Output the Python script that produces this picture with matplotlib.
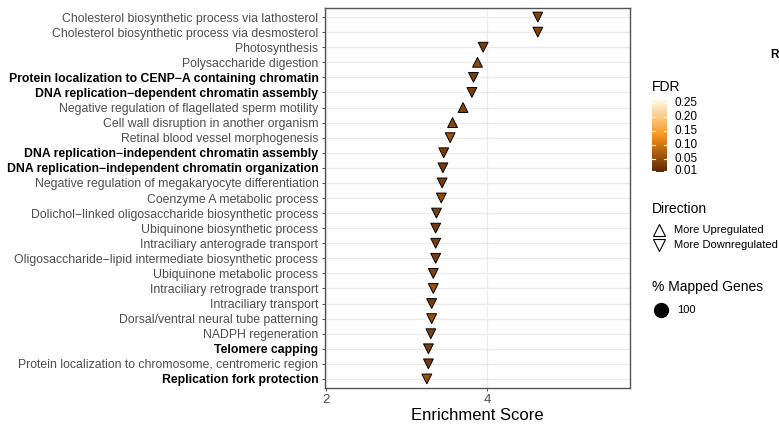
import matplotlib
matplotlib.use("Agg")
import matplotlib.pyplot as plt
import numpy as np
from matplotlib.colors import LinearSegmentedColormap, Normalize

plt.rcParams['font.family'] = ['Liberation Sans', 'DejaVu Sans']

terms = [
    "Cholesterol biosynthetic process via lathosterol",
    "Cholesterol biosynthetic process via desmosterol",
    "Photosynthesis",
    "Polysaccharide digestion",
    "Protein localization to CENP\u2212A containing chromatin",
    "DNA replication\u2212dependent chromatin assembly",
    "Negative regulation of flagellated sperm motility",
    "Cell wall disruption in another organism",
    "Retinal blood vessel morphogenesis",
    "DNA replication\u2212independent chromatin assembly",
    "DNA replication\u2212independent chromatin organization",
    "Negative regulation of megakaryocyte differentiation",
    "Coenzyme A metabolic process",
    "Dolichol\u2212linked oligosaccharide biosynthetic process",
    "Ubiquinone biosynthetic process",
    "Intraciliary anterograde transport",
    "Oligosaccharide\u2212lipid intermediate biosynthetic process",
    "Ubiquinone metabolic process",
    "Intraciliary retrograde transport",
    "Intraciliary transport",
    "Dorsal/ventral neural tube patterning",
    "NADPH regeneration",
    "Telomere capping",
    "Protein localization to chromosome, centromeric region",
    "Replication fork protection",
]
highlight = [False, False, False, False, True, True, False, False, False, True, True,
             False, False, False, False, False, False, False, False, False, False,
             False, True, False, True]
enrichment = [4.63, 4.63, 3.95, 3.88, 3.83, 3.81, 3.70, 3.57, 3.54, 3.46, 3.45, 3.44,
              3.43, 3.37, 3.36, 3.36, 3.36, 3.33, 3.33, 3.31, 3.31, 3.30, 3.27, 3.27, 3.25]
direction = ["down", "down", "down", "up", "down", "down", "up", "up", "down", "down",
             "down", "down", "down", "down", "down", "down", "down", "down", "down",
             "down", "down", "down", "down", "down", "down"]
fdr = [0.04, 0.04, 0.03, 0.045, 0.03, 0.03, 0.04, 0.045, 0.055, 0.03, 0.03, 0.03,
       0.05, 0.035, 0.03, 0.03, 0.03, 0.035, 0.055, 0.03, 0.055, 0.035, 0.03, 0.03, 0.055]
mapped_pct = [100] * 25
fdr_breaks = [0.01, 0.05, 0.10, 0.15, 0.20, 0.25]
x_breaks = [2, 4]

W, H = 779, 425
fig = plt.figure(figsize=(W / 100, H / 100), dpi=100)

def fx(px):
    return px / W

def fy(py):
    return 1 - py / H

cmap = LinearSegmentedColormap.from_list(
    "fdr", [(0.0, "#5c2606"), (0.5, "#f7941d"), (1.0, "#fffbea")])
norm = Normalize(vmin=0.005, vmax=0.262)

ax = fig.add_axes([fx(324.7), fy(388), fx(629.5 - 324.7), (388 - 8) / H])
n = len(terms)
ys = np.arange(1, n + 1)
ax.set_ylim(n + 0.6, 0.4)
ax.set_xlim(1.98, 5.77)
ax.set_axisbelow(True)
for y in ys:
    ax.axhline(y, color="#ebebeb", lw=1.0, zorder=0)
for xb in x_breaks:
    ax.axvline(xb, color="#ebebeb", lw=1.0, zorder=0)

for d, mk in [("up", "^"), ("down", "v")]:
    idx = [i for i in range(n) if direction[i] == d]
    ax.scatter([enrichment[i] for i in idx], [ys[i] for i in idx],
               c=[fdr[i] for i in idx], cmap=cmap, norm=norm, marker=mk,
               s=50, edgecolors="black", linewidths=0.7, zorder=3)

ax.set_yticks(ys)
ax.set_yticklabels(terms)
for lbl, hl in zip(ax.get_yticklabels(), highlight):
    lbl.set_fontsize(8.8)
    if hl:
        lbl.set_fontweight("bold")
        lbl.set_color("black")
    else:
        lbl.set_color("#4d4d4d")
ax.set_xticks(x_breaks)
ax.set_xticklabels([str(v) for v in x_breaks], fontsize=9.5, color="#4d4d4d")
ax.tick_params(axis="both", length=2.5, width=0.6, color="#333333", pad=2)
ax.set_xlabel("Enrichment Score", fontsize=12, labelpad=1)
for sp in ax.spines.values():
    sp.set_color("#555555")
    sp.set_linewidth(1.0)

# FDR legend (colorbar)
fig.text(fx(652), fy(87), "FDR", fontsize=10, va="center", ha="left")
cb_bot, cb_top = 172, 100
cax = fig.add_axes([fx(652), fy(cb_bot), fx(15), (cb_bot - cb_top) / H])
grad = np.linspace(norm.vmin, norm.vmax, 256).reshape(-1, 1)
cax.imshow(grad, aspect="auto", cmap=cmap, norm=norm, origin="lower",
           extent=[0, 1, norm.vmin, norm.vmax])
cax.set_xlim(0, 1)
cax.set_ylim(norm.vmin, norm.vmax)
cax.set_xticks([])
cax.set_yticks([])
for sp in cax.spines.values():
    sp.set_visible(False)
for b in fdr_breaks:
    cax.plot([0, 0.2], [b, b], color="white", lw=0.8)
    cax.plot([0.8, 1], [b, b], color="white", lw=0.8)
    cax.text(1.5, b, f"{b:.2f}", fontsize=8.5, va="center", ha="left",
             transform=cax.get_yaxis_transform(), clip_on=False)

# Direction legend
fig.text(fx(652), fy(209), "Direction", fontsize=10, va="center", ha="left")
fig.lines.append(plt.Line2D([fx(659)], [fy(230)], marker="^", markersize=8,
                            markerfacecolor="none", markeredgecolor="black",
                            markeredgewidth=0.8, transform=fig.transFigure))
fig.lines.append(plt.Line2D([fx(659)], [fy(245)], marker="v", markersize=8,
                            markerfacecolor="none", markeredgecolor="black",
                            markeredgewidth=0.8, transform=fig.transFigure))
fig.text(fx(674), fy(230), "More Upregulated", fontsize=8, va="center", ha="left")
fig.text(fx(674), fy(245), "More Downregulated", fontsize=8, va="center", ha="left")

# Size legend
fig.text(fx(652), fy(287), "% Mapped Genes", fontsize=10, va="center", ha="left")
fig.lines.append(plt.Line2D([fx(661)], [fy(310)], marker="o", markersize=10,
                            markerfacecolor="black", markeredgecolor="black",
                            transform=fig.transFigure))
fig.text(fx(677), fy(310), str(mapped_pct[0]), fontsize=8, va="center", ha="left")

fig.text(fx(770), fy(55), "R", fontsize=8.5, fontweight="bold", va="center", ha="left")

fig.savefig("out.png", dpi=100)
